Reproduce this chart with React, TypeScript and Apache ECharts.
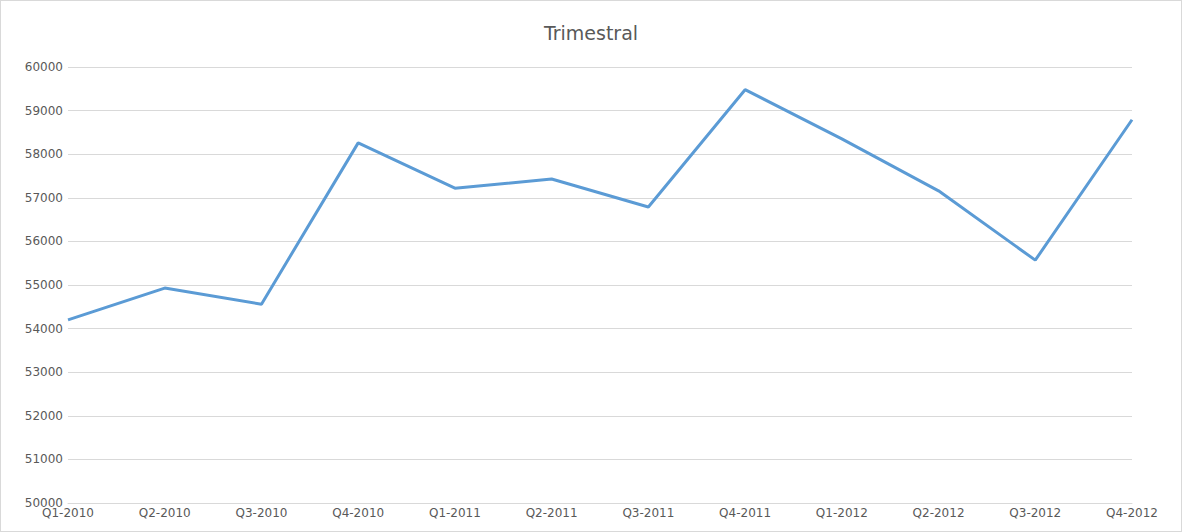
import React, { useEffect, useRef } from "react";
import * as echarts from "echarts";

const categories = [
  "Q1-2010", "Q2-2010", "Q3-2010", "Q4-2010",
  "Q1-2011", "Q2-2011", "Q3-2011", "Q4-2011",
  "Q1-2012", "Q2-2012", "Q3-2012", "Q4-2012",
];
const values = [54200, 54930, 54560, 58260, 57220, 57430, 56790, 59480, 58350, 57160, 55570, 58790];
const titleText = "Trimestral";

export default function App() {
  const ref = useRef<HTMLDivElement>(null);
  useEffect(() => {
    document.body.style.margin = "0";
    const chart = echarts.init(ref.current!, null, { renderer: "svg" });
    const font = "'DejaVu Sans', sans-serif";
    chart.setOption({
      animation: false,
      backgroundColor: "#ffffff",
      title: {
        text: titleText,
        left: "center",
        top: 17,
        textStyle: { fontFamily: font, fontSize: 19, fontWeight: "normal", color: "#595959", lineHeight: 22 },
      },
      grid: { left: 68, right: 50, top: 67, bottom: 29 },
      xAxis: {
        type: "category",
        data: categories,
        boundaryGap: false,
        axisLine: { show: true, lineStyle: { color: "#d9d9d9", width: 1 } },
        axisTick: { show: false },
        axisLabel: { fontFamily: font, fontSize: 12, color: "#595959", margin: 4, interval: 0 },
      },
      yAxis: {
        type: "value",
        min: 50000,
        max: 60000,
        interval: 1000,
        axisLine: { show: false },
        axisTick: { show: false },
        splitLine: { lineStyle: { color: "#d9d9d9", width: 1 } },
        axisLabel: {
          fontFamily: font,
          fontSize: 12,
          color: "#595959",
          margin: 5,
          formatter: (v: number) => String(v),
        },
      },
      series: [
        {
          type: "line",
          data: values,
          symbol: "none",
          lineStyle: { color: "#5b9bd5", width: 3 },
          itemStyle: { color: "#5b9bd5" },
        },
      ],
    });
    return () => chart.dispose();
  }, []);
  return (
    <div style={{ position: "fixed", left: 0, top: 0, width: 1182, height: 532 }}>
      <div ref={ref} style={{ width: 1182, height: 532 }} />
      <div
        style={{
          position: "absolute",
          left: 0,
          top: 0,
          width: 1182,
          height: 532,
          boxSizing: "border-box",
          border: "1px solid #d9d9d9",
          pointerEvents: "none",
        }}
      />
    </div>
  );
}
